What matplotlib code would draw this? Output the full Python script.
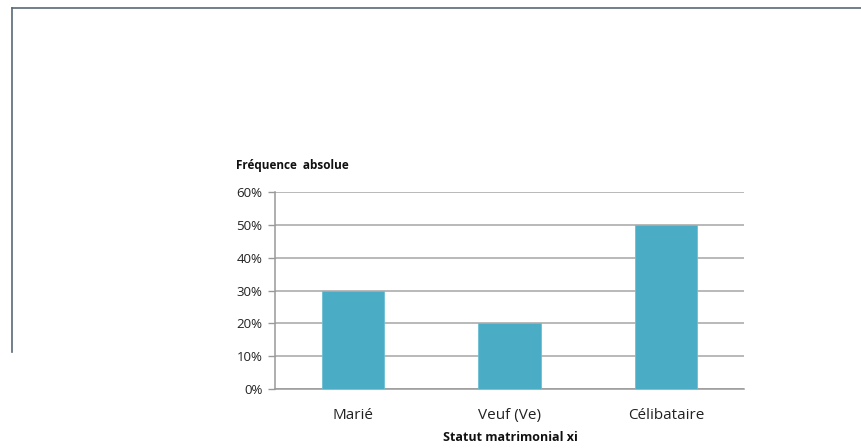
import matplotlib
matplotlib.use("Agg")
import matplotlib.pyplot as plt
from matplotlib.lines import Line2D
from matplotlib.ticker import PercentFormatter

categories = ["Marié", "Veuf (Ve)", "Célibataire"]
values = [0.30, 0.20, 0.50]
yticks = [0.0, 0.1, 0.2, 0.3, 0.4, 0.5, 0.6]

plt.rcParams['font.family'] = ['Open Sans', 'DejaVu Sans']

W, H = 862, 448
fig = plt.figure(figsize=(W / 100, H / 100), dpi=100)
fig.patch.set_facecolor("white")

# frame lines around the figure region
fig.add_artist(Line2D([12 / W, 1.0], [1 - 8 / H, 1 - 8 / H], color="#5b6878", lw=1.2))
fig.add_artist(Line2D([12 / W, 12 / W], [1 - 8 / H, 1 - 352 / H], color="#5b6878", lw=1.2))

left, right = 275 / W, 744 / W
bottom, top = 1 - 389 / H, 1 - 192 / H
ax = fig.add_axes([left, bottom, right - left, top - bottom])

x = range(len(categories))
ax.bar(x, values, width=0.4, color="#4BACC6", edgecolor="#6cbfd6", linewidth=0.6, zorder=3)
ax.set_xlim(-0.5, len(categories) - 0.5)
ax.set_ylim(0, 0.6)
ax.set_yticks(yticks)
ax.yaxis.set_major_formatter(PercentFormatter(1.0, decimals=0))
ax.set_xticks(list(x))
ax.set_xticklabels(categories, fontsize=11, color="#222222")
ax.tick_params(axis="x", length=0, pad=14)
ax.tick_params(axis="y", length=5, width=1, color="#999999", labelsize=9.5, labelcolor="#222222", pad=4)

ax.yaxis.grid(True, color="#a6a6a6", linewidth=1.1, zorder=0)
ax.set_axisbelow(True)
for s in ["top", "right"]:
    ax.spines[s].set_visible(False)
ax.spines["left"].set_color("#999999")
ax.spines["bottom"].set_color("#999999")
ax.spines["left"].set_linewidth(1.1)
ax.spines["bottom"].set_linewidth(1.1)

fig.text(236 / W, 1 - 165 / H, "Fréquence  absolue", fontsize=8.5, fontweight="bold",
         ha="left", va="center", color="#111111")
fig.text(510 / W, 1 - 437 / H, "Statut matrimonial xi", fontsize=9, fontweight="bold",
         ha="center", va="center", color="#111111")

fig.savefig("out.png", dpi=100)
